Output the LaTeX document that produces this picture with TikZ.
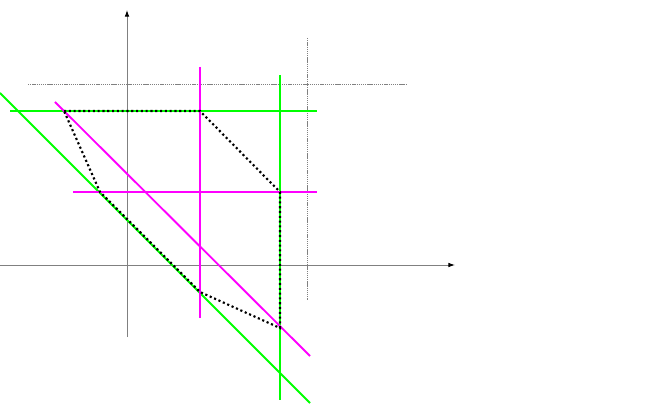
\documentclass[tikz,border=0pt]{standalone}
\usetikzlibrary{arrows.meta}
\definecolor{mag}{rgb}{1,0,1}
\definecolor{grn}{rgb}{0,1,0}
\begin{document}
\begin{tikzpicture}[x=0.75pt,y=-0.75pt,
  axis/.style={draw=gray, line width=0.7pt, -{Latex[length=5pt,width=3.5pt,color=black]}},
  guide/.style={draw=gray, line width=0.6pt, dash pattern=on 1pt off 0.6pt},
  gline/.style={draw=grn, line width=1.4pt},
  mline/.style={draw=mag, line width=1.4pt},
  region/.style={draw=black, line width=1.6pt, dotted}]
\useasboundingbox (0,0) rectangle (671,413);
% axes
\coordinate (xa) at (0,265); \coordinate (xb) at (455,265);
\coordinate (ya) at (127,337); \coordinate (yb) at (127,10);
\draw[axis] (xa) -- (xb);
\draw[axis] (ya) -- (yb);
% guides
\coordinate (g1) at (28,84); \coordinate (g2) at (407,84);
\coordinate (g3) at (307,38); \coordinate (g4) at (307,300);
\draw[guide] (g1) -- (g2);
\draw[guide] (g3) -- (g4);
% green lines
\coordinate (gh1) at (10,111); \coordinate (gh2) at (317,111);
\coordinate (gv1) at (280,75); \coordinate (gv2) at (280,400);
\coordinate (gd1) at (0,93); \coordinate (gd2) at (310,403);
\draw[gline] (gh1) -- (gh2);
\draw[gline] (gv1) -- (gv2);
\draw[gline] (gd1) -- (gd2);
% magenta lines
\coordinate (mv1) at (200,67); \coordinate (mv2) at (200,318);
\coordinate (mh1) at (73,192); \coordinate (mh2) at (317,192);
\coordinate (md1) at (55,102); \coordinate (md2) at (310,356);
\draw[mline] (mv1) -- (mv2);
\draw[mline] (mh1) -- (mh2);
\draw[mline] (md1) -- (md2);
% feasible region
\coordinate (p1) at (64,111);
\coordinate (p2) at (200,111);
\coordinate (p3) at (280,192);
\coordinate (p4) at (280,328);
\coordinate (p5) at (200,292);
\coordinate (p6) at (100,192);
\draw[region] (p1) -- (p2) -- (p3) -- (p4) -- (p5) -- (p6) -- cycle;
\end{tikzpicture}
\end{document}
